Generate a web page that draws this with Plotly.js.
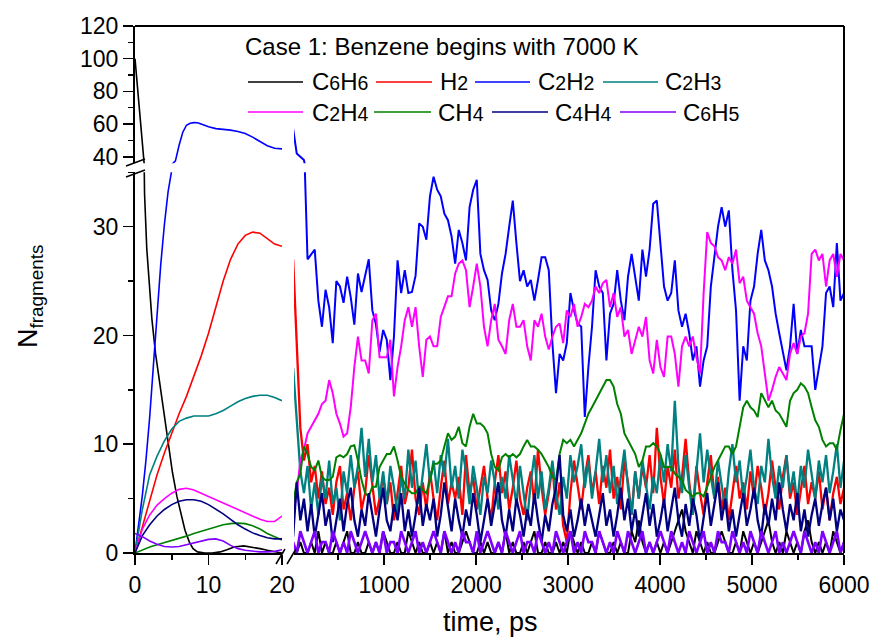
<!DOCTYPE html>
<html>
<head>
<meta charset="utf-8">
<script src="https://cdn.plot.ly/plotly-3.0.1.min.js"></script>
<style>html,body{margin:0;padding:0;background:#fff}#chart{width:872px;height:639px}</style>
</head>
<body>
<div id="chart"></div>
<script>
// ---------------- DATA ----------------
const species = ['C6H6', 'H2', 'C2H2', 'C2H3', 'C2H4', 'CH4', 'C4H4', 'C6H5'];
const legendTitle = 'Case 1: Benzene begins with 7000 K';
const xTitle = 'time, ps';
const yTitle = 'N<sub>fragments</sub>';

// left panel, 0-20 ps (1 ps step unless a time array is given)
const tLeft0 = 0, tLeftStep = 1;
const tC6H6L = [0, 0.6, 1.15, 1.3, 1.6, 2.0, 2.3, 2.8, 3.4, 4.0, 4.5, 5.1, 5.7, 6.3, 6.8, 7.4, 7.9, 8.5, 9.5, 10.5, 11.6, 12.5, 13.5, 14.8, 16, 17, 18, 19, 20];
const yC6H6L = [100, 69, 36, 33, 28, 24, 21.5, 18.3, 15.5, 12.6, 10.1, 7.4, 5.2, 3.4, 2.1, 1.0, 0.4, 0.1, 0, 0, 0.1, 0.3, 0.55, 0.65, 0.55, 0.4, 0.25, 0.1, 0];
const tC2H2L = [0, 0.5, 1, 1.5, 2, 2.5, 3, 3.5, 4, 4.5, 5, 5.5, 6, 6.5, 7, 7.5, 8, 8.5, 9, 10, 11, 12, 13, 14, 15, 16, 17, 18, 19, 20];
const yC2H2L = [0, 2.5, 5.3, 8.6, 12.5, 17.2, 22.2, 26.5, 30.2, 33.2, 35.2, 37.5, 47, 55, 59.3, 60.5, 60.9, 60.8, 60, 58.3, 57.2, 56.8, 56.3, 55.5, 54.2, 52.0, 49.3, 46.8, 45.2, 44.8];
const yH2L   = [0, 2.4, 4.9, 7.2, 9.2, 11.1, 12.8, 14.4, 16.2, 18.1, 20.2, 22.5, 25.0, 27.0, 28.4, 29.2, 29.5, 29.4, 28.9, 28.4, 28.2];
const yC2H3L = [0, 4.0, 7.2, 8.9, 10.3, 11.4, 12.1, 12.4, 12.6, 12.6, 12.6, 12.8, 13.1, 13.5, 13.9, 14.2, 14.4, 14.5, 14.5, 14.3, 14.0];
const yC2H4L = [0, 2.2, 3.5, 4.4, 5.0, 5.5, 5.85, 5.95, 5.8, 5.5, 5.15, 4.85, 4.6, 4.3, 4.0, 3.7, 3.4, 3.1, 2.9, 2.9, 3.4];
const yCH4L  = [0, 0.3, 0.55, 0.75, 0.95, 1.1, 1.3, 1.55, 1.8, 2.0, 2.25, 2.45, 2.6, 2.7, 2.75, 2.7, 2.5, 2.2, 1.8, 1.5, 1.2];
const yC4H4L = [0, 1.6, 2.6, 3.4, 4.0, 4.45, 4.75, 4.9, 4.9, 4.75, 4.45, 4.05, 3.6, 3.1, 2.6, 2.2, 1.85, 1.6, 1.4, 1.3, 1.3];
const yC6H5L = [1.8, 1.5, 1.1, 0.8, 0.6, 0.55, 0.6, 0.75, 0.9, 1.1, 1.25, 1.3, 1.1, 0.7, 0.4, 0.25, 0.15, 0.1, 0.1, 0.15, 0.3];

// right panel, 20-6000 ps, sampled every 39.15 ps
const tRight0 = 10.65, tRightStep = 39.15;
const yC2H2R = [57, 42, 40, 38, 27, 27.5, 27.9, 23.2, 20.8, 24.2,
  22.6, 19.3, 25.0, 24.5, 23.0, 25.4, 23.5, 21.0, 25.7, 24.0,
  25.4, 27.0, 22.3, 21.0, 18.5, 20.5, 19.6, 15.9, 19.9, 26.9,
  23.9, 26.0, 23.9, 24.0, 25.5, 30.3, 30.0, 28.8, 32.8, 34.6,
  33.4, 32.8, 31.2, 30.6, 29.1, 26.6, 29.7, 28.5, 26.9, 31.8,
  33.4, 34.3, 27.5, 26.0, 25.1, 22.3, 21.4, 22.9, 25.7, 27.5,
  30.0, 32.4, 28.5, 25.0, 26.0, 24.5, 25.1, 23.2, 25.1, 27.2,
  27.2, 26.0, 19.3, 14.7, 18.3, 17.7, 19.3, 23.9, 22.3, 21.1,
  20.8, 12.5, 17.1, 20.8, 26.0, 24.5, 23.9, 17.7, 22.0, 22.9,
  26.0, 23.2, 21.4, 25.4, 27.5, 25.4, 23.2, 27.9, 25.4, 27.9,
  32.1, 32.4, 28.2, 24.5, 23.2, 23.9, 26.9, 22.3, 20.8, 22.0,
  20.2, 17.7, 19.0, 15.3, 17.7, 19.0, 24.5, 27.5, 30.0, 31.8,
  30.0, 31.5, 26.0, 22.3, 14.0, 19.0, 17.7, 23.2, 24.5, 27.5,
  29.7, 26.9, 26.0, 24.5, 22.0, 20.2, 18.3, 16.8, 19.0, 22.9,
  18.3, 20.5, 19.0, 19.0, 19.0, 15.0, 17.1, 19.0, 23.9, 24.5,
  22.6, 28.5, 23.2, 23.9];
const yC2H4R = [3.5, 5.5, 8.5, 9.5, 11.0, 11.6, 12.2, 12.8, 13.7, 14.0,
  15.9, 14.7, 12.8, 11.9, 10.7, 11.0, 13.4, 17.1, 19.9, 17.7,
  17.7, 16.5, 21.4, 22.0, 18.0, 18.0, 18.0, 19.6, 14.4, 17.1,
  19.0, 21.4, 22.6, 20.8, 22.6, 19.0, 16.2, 19.6, 19.9, 19.0,
  19.0, 21.7, 22.6, 23.6, 23.6, 25.7, 26.6, 26.9, 26.0, 22.6,
  24.5, 26.6, 24.5, 20.8, 19.0, 21.4, 22.9, 19.6, 19.0, 18.3,
  21.4, 22.9, 20.8, 20.8, 21.4, 19.0, 17.7, 21.4, 20.8, 22.0,
  19.9, 18.7, 19.9, 20.8, 21.1, 19.3, 22.3, 21.7, 22.9, 20.8,
  21.7, 22.9, 22.6, 23.2, 24.5, 23.9, 24.8, 25.1, 22.6, 23.9,
  21.7, 22.6, 19.9, 20.5, 18.3, 19.6, 20.8, 19.9, 21.7, 17.7,
  16.5, 19.6, 17.1, 16.2, 19.9, 19.9, 18.3, 15.3, 19.0, 19.9,
  19.0, 19.9, 18.0, 16.5, 23.9, 29.5, 28.5, 28.2, 27.2, 26.9,
  26.0, 27.2, 26.6, 27.9, 24.8, 25.4, 23.2, 22.6, 22.0, 20.2,
  19.0, 16.5, 14.0, 15.0, 16.2, 17.1, 16.5, 15.9, 18.3, 19.3,
  18.3, 19.9, 20.2, 22.0, 27.5, 27.9, 26.9, 27.5, 24.5, 26.9,
  27.5, 25.4, 27.5, 26.9];
const yCH4R = [4.5, 6.5, 7.3, 9.8, 9.1, 7.9, 7.6, 8.5, 7.0, 6.7,
  6.7, 7.0, 8.8, 9.0, 8.8, 9.1, 9.8, 9.9, 8.5, 6.7,
  5.5, 5.2, 6.1, 6.1, 7.9, 8.5, 9.1, 9.1, 9.8, 8.5,
  7.0, 6.4, 5.8, 5.5, 5.5, 6.1, 5.8, 5.5, 6.7, 8.2,
  8.2, 8.5, 9.8, 11.0, 10.4, 10.7, 11.6, 10.1, 9.8, 11.6,
  12.8, 11.9, 11.9, 11.6, 11.0, 9.1, 7.9, 7.6, 8.8, 9.1,
  8.8, 9.1, 8.8, 9.1, 9.8, 10.4, 9.8, 9.8, 9.5, 9.1,
  8.5, 7.9, 7.0, 6.7, 9.1, 10.4, 10.1, 10.4, 9.8, 10.4,
  11.0, 11.9, 12.8, 13.4, 14.0, 14.7, 15.3, 15.9, 15.9, 15.3,
  13.7, 12.8, 11.0, 10.4, 9.8, 9.1, 7.9, 8.5, 9.8, 9.8,
  10.1, 9.8, 9.1, 7.9, 7.9, 7.9, 7.3, 7.0, 6.7, 5.8,
  5.5, 5.2, 5.5, 5.5, 5.2, 6.1, 7.0, 7.9, 8.5, 9.1,
  9.8, 9.8, 9.1, 9.8, 11.6, 13.4, 14.0, 13.4, 13.1, 12.5,
  14.7, 14.0, 13.4, 14.0, 13.1, 12.8, 12.2, 11.6, 14.0, 14.7,
  15.0, 15.6, 15.3, 14.7, 13.4, 12.2, 11.6, 10.4, 9.8, 10.1,
  10.1, 9.5, 11.3, 12.8];
const yH2R = [27, 18.5, 11.5, 8.5, 10.0, 6.5, 8.0, 5.0, 7.5, 4.5,
  6.0, 3.5, 6.5, 8.0, 4.0, 5.5, 3.0, 6.0, 7.5, 4.0,
  5.5, 9.0, 6.0, 3.5, 5.0, 7.0, 4.5, 6.5, 3.0, 5.5,
  8.0, 4.5, 6.0, 9.5, 5.0, 3.5, 6.5, 4.0, 7.5, 5.0,
  3.0, 6.0, 8.5, 4.5, 6.5, 5.0, 7.0, 3.5, 9.0, 5.5,
  7.0, 4.0, 6.0, 8.0, 5.0, 3.0, 6.5, 9.0, 5.5, 7.5,
  4.0, 6.0, 8.5, 5.0, 3.5, 6.0, 7.5, 4.5, 9.5, 6.0,
  3.5, 5.5, 8.0, 4.0, 6.5, 2.5, 1.0, 5.5, 8.5, 6.0,
  4.0, 7.0, 9.0, 5.5, 7.5, 4.5, 8.0, 6.0, 9.5, 5.0,
  7.0, 4.0, 8.5, 6.5, 3.5, 7.5, 5.0, 8.0, 6.0, 9.0,
  5.5, 11.5, 7.0, 4.5, 8.0, 6.0, 9.5, 5.0, 7.0, 10.5,
  6.5, 4.0, 8.0, 5.5, 3.5, 6.5, 9.0, 5.0, 7.0, 4.0,
  6.0, 3.0, 5.5, 8.0, 5.0, 6.5, 4.0, 7.5, 5.0, 8.0,
  6.0, 3.5, 5.5, 8.5, 6.0, 4.0, 7.0, 9.0, 5.0, 6.5,
  3.5, 6.0, 8.0, 4.5, 6.5, 5.0, 7.5, 4.0, 6.0, 3.0,
  5.5, 7.0, 4.5, 6.0];
const yC2H3R = [17.0, 12.0, 7.5, 5.5, 8.0, 4.0, 6.5, 3.5, 7.0, 5.0,
  8.5, 4.5, 6.0, 3.0, 7.5, 5.5, 9.0, 6.0, 8.0, 11.5,
  7.0, 10.5, 6.5, 9.0, 5.0, 7.5, 4.5, 8.0, 6.0, 3.5,
  7.0, 5.0, 9.5, 6.0, 8.5, 4.5, 7.0, 10.0, 6.5, 8.5,
  5.5, 9.0, 7.0, 10.5, 6.0, 8.0, 5.0, 9.5, 7.5, 4.5,
  8.0, 6.0, 3.5, 7.0, 5.5, 8.5, 6.5, 4.0, 7.0, 5.0,
  9.0, 6.5, 4.5, 8.0, 5.5, 3.0, 6.5, 9.0, 5.0, 7.5,
  4.0, 6.0, 8.5, 5.5, 3.5, 7.0, 5.0, 9.0, 6.5, 8.0,
  10.0, 6.0, 8.5, 5.0, 7.5, 10.5, 6.5, 9.0, 5.5, 8.0,
  4.5, 7.0, 9.5, 6.0, 3.5, 7.5, 5.0, 8.5, 6.0, 4.0,
  7.0, 5.5, 9.0, 6.5, 10.0, 7.5, 14.0, 8.0, 5.5, 9.0,
  6.0, 3.5, 7.5, 11.0, 6.5, 9.5, 7.0, 5.0, 8.5, 6.0,
  4.0, 7.5, 10.0, 6.5, 8.5, 5.0, 7.0, 9.5, 6.0, 4.5,
  8.0, 6.5, 10.5, 7.0, 5.0, 8.0, 6.0, 9.0, 5.5, 7.5,
  4.5, 8.0, 6.0, 9.5, 7.0, 5.0, 8.5, 6.5, 9.0, 5.5,
  7.5, 10.0, 6.0, 8.5];
const yC4H4R = [1.5, 6.5, 3.0, 5.0, 2.0, 4.5, 1.5, 3.5, 5.5, 2.5,
  4.0, 1.0, 3.0, 5.0, 2.0, 4.5, 6.0, 3.0, 1.5, 4.0,
  2.5, 5.5, 3.5, 1.5, 4.0, 6.0, 3.0, 2.0, 4.5, 3.0,
  5.5, 2.0, 4.0, 1.5, 3.5, 6.0, 2.5, 4.5, 3.0, 5.0,
  1.5, 3.5, 6.5, 4.0, 2.0, 5.0, 3.0, 1.5, 4.0, 2.5,
  5.5, 3.5, 1.0, 3.0, 5.0, 2.5, 4.5, 6.5, 3.0, 1.5,
  4.0, 2.0, 5.0, 3.5, 1.5, 4.0, 2.5, 5.5, 3.0, 1.0,
  3.5, 2.0, 4.5, 6.0, 9.0, 3.5, 2.0, 4.0, 1.5, 3.0,
  5.0, 2.5, 4.5, 3.0, 1.5, 3.5, 5.5, 2.5, 4.0, 1.5,
  3.5, 6.0, 3.0, 5.0, 2.0, 4.0, 1.5, 3.5, 5.5, 2.5,
  4.5, 1.5, 3.0, 5.0, 2.0, 4.0, 6.0, 3.0, 1.5, 4.5,
  2.5, 5.0, 3.5, 1.0, 3.5, 5.5, 2.5, 4.5, 6.5, 3.0,
  5.0, 2.0, 4.0, 1.5, 3.5, 5.5, 2.5, 4.0, 6.0, 3.0,
  1.5, 4.5, 2.5, 5.0, 3.0, 6.5, 4.0, 2.0, 4.5, 3.0,
  5.5, 2.0, 4.0, 1.5, 3.5, 5.0, 2.5, 4.5, 6.0, 3.0,
  5.0, 2.0, 4.0, 3.0];
const yC6H6R = [0, 0, 1, 0, 0, 1, 0, 2, 0, 1,
  0, 0, 1, 0, 1, 2, 0, 0, 1, 0,
  0, 1, 0, 1, 0, 2, 1, 0, 0, 1,
  0, 0, 2, 1, 0, 1, 0, 0, 1, 0,
  1, 0, 2, 0, 1, 0, 0, 1, 2, 1,
  0, 0, 1, 0, 1, 0, 0, 1, 0, 2,
  0, 1, 0, 0, 1, 0, 1, 2, 0, 0,
  1, 0, 0, 1, 0, 1, 0, 2, 1, 0,
  1, 0, 0, 1, 0, 2, 1, 0, 0, 1,
  0, 1, 0, 0, 2, 1, 3, 1, 0, 1,
  0, 1, 0, 1, 0, 1, 2, 3, 4, 2,
  1, 0, 2, 1, 0, 1, 0, 0, 1, 2,
  1, 0, 0, 1, 0, 2, 1, 0, 1, 0,
  1, 2, 3, 1, 0, 1, 0, 2, 1, 0,
  1, 0, 2, 3, 1, 0, 1, 0, 1, 0,
  2, 1, 0, 1];
const yC6H5R = [1, 0, 2, 1, 0, 1, 2, 0, 1, 1,
  0, 2, 1, 0, 1, 0, 2, 1, 0, 1,
  2, 1, 0, 1, 0, 2, 0, 1, 1, 0,
  2, 1, 0, 1, 2, 0, 1, 0, 1, 2,
  1, 0, 2, 1, 0, 1, 0, 2, 1, 1,
  0, 2, 0, 1, 2, 1, 0, 1, 0, 2,
  1, 0, 1, 2, 0, 1, 1, 0, 2, 1,
  0, 1, 0, 2, 1, 0, 1, 2, 0, 1,
  0, 2, 1, 1, 0, 2, 1, 0, 1, 0,
  2, 1, 0, 2, 1, 0, 1, 2, 0, 1,
  0, 1, 2, 1, 0, 2, 1, 0, 1, 0,
  2, 1, 0, 1, 2, 0, 1, 0, 2, 1,
  1, 0, 2, 1, 0, 1, 0, 2, 1, 0,
  2, 1, 0, 1, 2, 0, 1, 0, 1, 2,
  1, 0, 2, 1, 0, 1, 0, 2, 1, 0,
  1, 2, 0, 1];

// ---------------- STYLE / BUILD ----------------
const colors = ['#000000', '#ff0000', '#0000ff', '#008080', '#ff00ff', '#008000', '#000080', '#8000ff'];
const rightWidth = [2.0, 2.3, 2.0, 2.3, 2.0, 2.0, 2.3, 2.6];
const leftY  = [yC6H6L, yH2L, yC2H2L, yC2H3L, yC2H4L, yCH4L, yC4H4L, yC6H5L];
const leftT  = [tC6H6L, null, tC2H2L, null, null, null, null, null];
const rightY = [yC6H6R, yH2R, yC2H2R, yC2H3R, yC2H4R, yCH4R, yC4H4R, yC6H5R];
const reachesTop = [true, false, true, false, false, false, false, false];

const traces = [];
species.forEach((s, i) => {
  const yaxes = reachesTop[i] ? ['y', 'y2'] : ['y'];
  yaxes.forEach(ya => {
    const tl = {type: 'scatter', mode: 'lines', name: s, showlegend: false, hoverinfo: 'skip',
      y: leftY[i], xaxis: 'x', yaxis: ya, line: {color: colors[i], width: 1.6}};
    if (leftT[i]) tl.x = leftT[i]; else { tl.x0 = tLeft0; tl.dx = tLeftStep; }
    traces.push(tl);
    traces.push({type: 'scatter', mode: 'lines', name: s, showlegend: false, hoverinfo: 'skip',
      y: rightY[i], x0: tRight0, dx: tRightStep, xaxis: 'x2', yaxis: ya,
      line: {color: colors[i], width: rightWidth[i]}});
  });
});

// pixel helpers for decorations (plot area 135..844 x 26..553)
const L = 135, T = 26, W = 709, H = 527;
const px = v => (v - L) / W;
const py = v => (T + H - v) / H;
const FONT = 'Liberation Sans, Arial, Helvetica, sans-serif';

function formula(s) {
  return s.replace(/(\d)/g, '<span style="font-size:19.5px">$1</span>');
}

const seg = (x0, y0, x1, y1, w) => ({type: 'line', xref: 'paper', yref: 'paper',
  x0: px(x0), y0: py(y0), x1: px(x1), y1: py(y1), line: {color: '#000', width: w}});

const shapes = [
  seg(135, 26, 844, 26, 2),
  seg(844, 26, 844, 553, 2),
  seg(126, 166, 145, 159, 1.5),
  seg(126, 177, 145, 170, 1.5),
  seg(276, 564, 285, 549, 1.5),
  seg(287, 564, 296, 549, 1.5)
];

const legLine = [[248, 303, 82], [376, 432, 82], [475, 530, 82], [603, 658, 82],
                 [248, 303, 112], [374, 431, 112], [492, 548, 112], [620, 676, 112]];
const legText = [312, 440, 538, 665, 312, 438, 555, 683];

const annotations = [
  {xref: 'paper', yref: 'paper', x: px(243), y: py(47), xanchor: 'left', yanchor: 'middle',
   text: legendTitle, showarrow: false, font: {size: 24, family: FONT, color: '#000'}},
  {xref: 'paper', yref: 'paper', x: px(490), y: py(622), xanchor: 'center', yanchor: 'middle',
   text: xTitle, showarrow: false, font: {size: 27, family: FONT, color: '#000'}},
  {xref: 'paper', yref: 'paper', x: px(30), y: py(296), xanchor: 'center', yanchor: 'middle',
   text: yTitle, textangle: -90, showarrow: false, font: {size: 27, family: FONT, color: '#000'}}
];
species.forEach((s, i) => {
  const [a, b, yy] = legLine[i];
  const sh = seg(a, yy, b, yy, 1.6);
  sh.line.color = colors[i];
  shapes.push(sh);
  annotations.push({xref: 'paper', yref: 'paper', x: px(legText[i] - 2), y: py(yy), xanchor: 'left',
    yanchor: 'middle', text: formula(s), showarrow: false, font: {size: 24, family: FONT, color: '#000'}});
});

const axisCommon = {showline: true, linecolor: '#000', linewidth: 2, ticks: 'outside', ticklen: 10,
  tickwidth: 1.5, tickcolor: '#000', showgrid: false, zeroline: false,
  tickfont: {size: 23, family: FONT, color: '#000'}, fixedrange: true};

const layout = {
  width: 872, height: 639,
  margin: {l: L, r: 872 - L - W, t: T, b: 639 - T - H},
  paper_bgcolor: '#fff', plot_bgcolor: '#fff',
  showlegend: false,
  font: {family: FONT, color: '#000'},
  xaxis: Object.assign({}, axisCommon, {domain: [0, px(282)], range: [0, 20], anchor: 'y',
    tick0: 0, dtick: 10, minor: {dtick: 5, ticklen: 5, tickwidth: 1.5, tickcolor: '#000', ticks: 'outside', showgrid: false}}),
  xaxis2: Object.assign({}, axisCommon, {domain: [px(294), 1], range: [20, 6000], anchor: 'y',
    tick0: 0, dtick: 1000, minor: {dtick: 500, ticklen: 5, tickwidth: 1.5, tickcolor: '#000', ticks: 'outside', showgrid: false}}),
  yaxis: Object.assign({}, axisCommon, {domain: [0, py(172.3)], range: [0, 35], anchor: 'x',
    tick0: 0, dtick: 10, minor: {dtick: 5, ticklen: 5, tickwidth: 1.5, tickcolor: '#000', ticks: 'outside', showgrid: false}}),
  yaxis2: Object.assign({}, axisCommon, {domain: [py(163.3), 1], range: [36, 120], anchor: 'x',
    tick0: 0, dtick: 20, minor: {dtick: 10, ticklen: 5, tickwidth: 1.5, tickcolor: '#000', ticks: 'outside', showgrid: false}}),
  shapes: shapes,
  annotations: annotations
};

Plotly.newPlot('chart', traces, layout, {displayModeBar: false, staticPlot: true});
</script>
</body>
</html>
